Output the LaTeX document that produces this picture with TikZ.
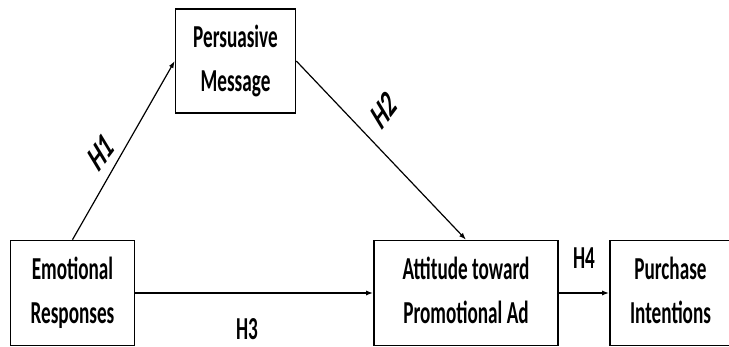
\documentclass[tikz,border=0pt]{standalone}
\usepackage{fontspec}
\setmainfont{Carlito}
\usetikzlibrary{arrows.meta}

\newcommand{\squeeze}[1]{\scalebox{0.6}[1]{\begin{tabular}{@{}c@{}}#1\end{tabular}}}

\begin{document}
\begin{tikzpicture}[x=1pt, y=-1pt,
  construct/.style={draw, line width=1.6pt, inner sep=0pt,
    font=\fontsize{32}{44}\selectfont\bfseries},
  link/.style={line width=1.5pt, -{Latex[length=7pt, width=5pt]}},
  slant/.style={line width=1.2pt, -{Latex[length=7pt, width=5pt]}},
  hyp/.style={inner sep=0pt, font=\fontsize{32}{38}\selectfont\bfseries},
  tilted/.style={hyp, rotate=53, xslant=0.4, transform shape}
]

\useasboundingbox (0,0) rectangle (729,347);

%% --- constructs ---
\node[construct, minimum width=124pt, minimum height=105pt] (emo) at (72.5,293)
  {\squeeze{Emotional\\Responses}};
\node[construct, minimum width=120pt, minimum height=104pt] (pers) at (235.5,61)
  {\squeeze{Persuasive\\Message}};
\node[construct, minimum width=184pt, minimum height=105pt] (att) at (466,293)
  {\squeeze{Attitude toward\\Promotional Ad}};
\node[construct, minimum width=121pt, minimum height=105pt] (pur) at (670.5,293)
  {\squeeze{Purchase\\Intentions}};

%% --- hypothesised paths ---
\draw[slant] (emo.north) -- (pers.west);
\draw[slant] (pers.east) -- (att.north);
\draw[link] (emo.east) -- (att.west);
\draw[link] (att.east) -- (pur.west);

%% --- hypothesis labels ---
\node[tilted] (h1) at (101,152) {\scalebox{0.8}[1]{H1}};
\node[tilted] (h2) at (384,110) {\scalebox{0.8}[1]{H2}};
\node[hyp] (h3) at (247,329) {\scalebox{0.6}[1]{H3}};
\node[hyp] (h4) at (584,258) {\scalebox{0.6}[1]{H4}};

\end{tikzpicture}
\end{document}
